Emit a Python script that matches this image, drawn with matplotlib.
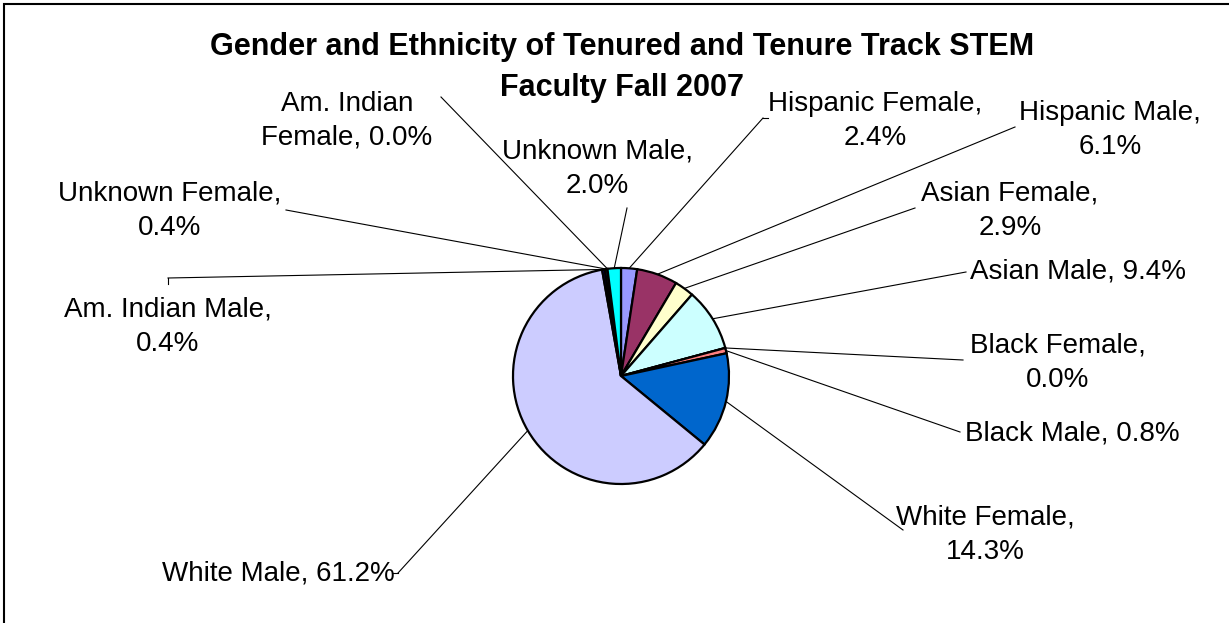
import matplotlib
matplotlib.use("Agg")
import matplotlib.pyplot as plt
import numpy as np
from matplotlib.patches import Rectangle

plt.rcParams['font.family'] = ['Liberation Sans', 'DejaVu Sans']

categories = ["Hispanic Female", "Hispanic Male", "Asian Female", "Asian Male",
              "Black Female", "Black Male", "White Female", "White Male",
              "Am. Indian Male", "Unknown Female", "Am. Indian Female", "Unknown Male"]
values = [2.4, 6.1, 2.9, 9.4, 0.0, 0.8, 14.3, 61.2, 0.4, 0.4, 0.0, 2.0]
colors = ["#9999FF", "#993366", "#FFFFCC", "#CCFFFF", "#660066", "#FF8080",
          "#0066CC", "#CCCCFF", "#000080", "#1a1a40", "#FFFF00", "#00FFFF"]
label_texts = ["Hispanic Female,\n2.4%", "Hispanic Male,\n6.1%", "Asian Female,\n2.9%",
               "Asian Male, 9.4%", "Black Female,\n0.0%", "Black Male, 0.8%",
               "White Female,\n14.3%", "White Male, 61.2%", "Am. Indian Male,\n0.4%",
               "Unknown Female,\n0.4%", "Am. Indian\nFemale, 0.0%", "Unknown Male,\n2.0%"]
title_lines = ["Gender and Ethnicity of Tenured and Tenure Track STEM", "Faculty Fall 2007"]

W, H = 1229, 623
fig = plt.figure(figsize=(W / 100, H / 100), dpi=100)
ax = fig.add_axes([0, 0, 1, 1])

cx, cy, R = 621, 376, 108
wedges, _ = ax.pie(values, colors=colors, startangle=-90, counterclock=True,
                   center=(cx, cy), radius=R, frame=True,
                   wedgeprops=dict(edgecolor='black', linewidth=1.6))
ax.set_xlim(0, W)
ax.set_ylim(H, 0)
ax.set_aspect('equal')
ax.axis('off')

# label layout: text center, leader anchor
layout = {
    "Hispanic Female": ((875, 121), (763, 118)),
    "Hispanic Male": ((1110, 130), (1015, 127)),
    "Asian Female": ((1010, 211), (915, 208)),
    "Asian Male": ((1078, 272), (966, 272)),
    "Black Female": ((1058, 363), (963, 360)),
    "Black Male": ((1072, 433), (960, 432)),
    "White Female": ((985, 535), (903, 530)),
    "White Male": ((278, 573), (398, 573)),
    "Am. Indian Male": ((168, 327), (168, 278)),
    "Unknown Female": ((170, 211), (286, 210)),
    "Am. Indian Female": ((347, 121), (441, 97)),
    "Unknown Male": ((597, 169), (627, 208)),
}

for w, cat, txt in zip(wedges, categories, label_texts):
    (tx, ty), (lx, ly) = layout[cat]
    ax.text(tx, ty, txt, ha='center', va='center', fontsize=20,
            linespacing=1.4, color='black')
    mid = np.deg2rad((w.theta1 + w.theta2) / 2)
    px = cx + R * np.cos(mid)
    py = cy + R * np.sin(mid)
    ax.plot([lx, px], [ly, py], color='black', linewidth=0.8, zorder=0)

# small ticks at label ends
ax.plot([168, 168], [278, 284], color='black', linewidth=0.8)
ax.plot([398, 392], [573, 573], color='black', linewidth=0.8)
ax.plot([763, 768], [118, 118], color='black', linewidth=0.8)

for ty, line in zip([47, 88], title_lines):
    ax.text(622, ty, line, ha='center', va='center', fontsize=22, fontweight='bold')

fig.patches.append(Rectangle((4 / W, -0.1), 1.2, (H - 4) / H + 0.1, transform=fig.transFigure,
                             fill=False, edgecolor='black', linewidth=1.5))

fig.savefig("out.png", dpi=100)
